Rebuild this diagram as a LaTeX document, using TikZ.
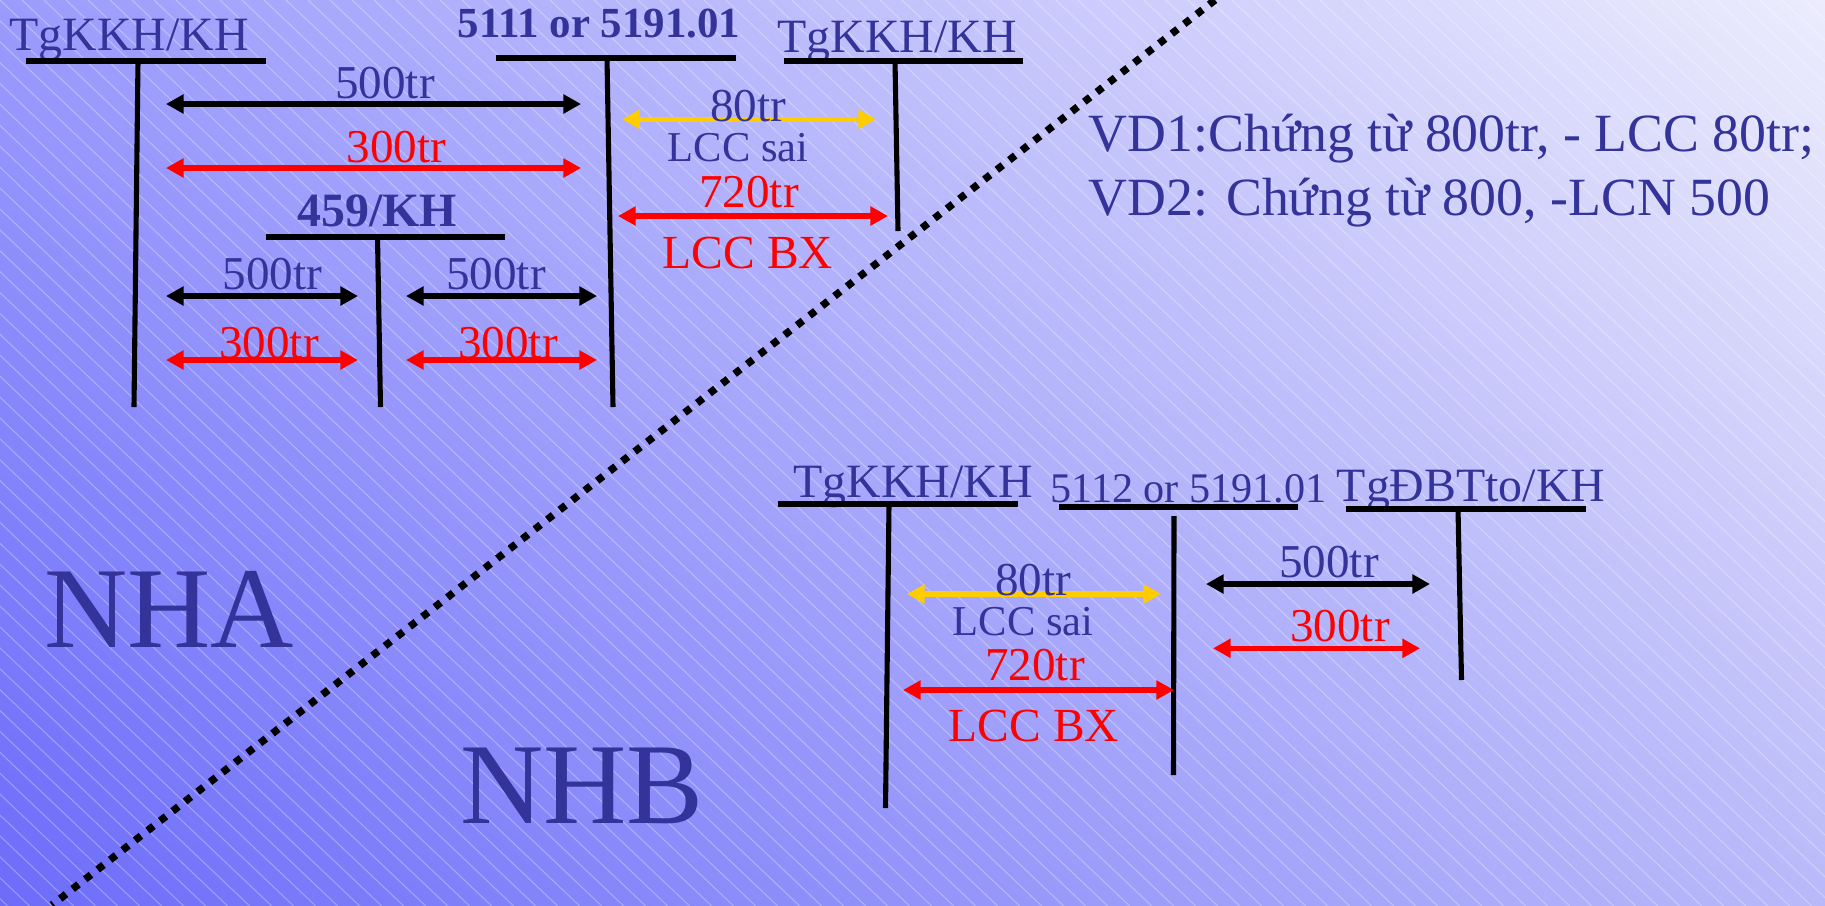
\documentclass[tikz,border=0pt]{standalone}
\usepackage{fontspec}
\setmainfont{Liberation Serif}
\usetikzlibrary{arrows.meta, shadings}

\definecolor{txtblue}{HTML}{333399}
\definecolor{lccyellow}{HTML}{FFCC00}
\definecolor{bgLL}{RGB}{108,108,250}
\definecolor{bgUL}{RGB}{155,155,252}
\definecolor{bgLR}{RGB}{185,185,250}
\definecolor{bgUR}{RGB}{236,236,253}

\tikzset{
  lbl/.style={anchor=base, inner sep=0pt, text=txtblue, font=\fontsize{13.6pt}{16pt}\selectfont},
  amt/.style={anchor=base, inner sep=0pt, font=\fontsize{13.4pt}{16pt}\selectfont},
  tline/.style={line width=1.45pt},
  darr/.style={<->, >={Triangle[length=5pt,width=5.2pt]}, line width=1.45pt},
  hatch/.style={white, opacity=0.3, line width=0.3pt}
}

\begin{document}
\begin{tikzpicture}[x=0.01cm, y=-0.01cm]
  % Background
  \useasboundingbox (0,0) rectangle (1825,905);
  \shade[lower left=bgLL, upper left=bgUL, lower right=bgLR, upper right=bgUR] (0,0) rectangle (1825,905);
  \begin{scope}
    \clip (0,0) rectangle (1825,905);
    \foreach \i in {-45,...,84}
      \draw[hatch] (\i*22,0) -- ++(1000,950);
  \end{scope}

  % Divider
  \coordinate (divtop) at (1215,0);
  \coordinate (divbot) at (52,905);
  \draw[line width=2.1pt, dash pattern=on 2.1pt off 2.4pt] (divtop) -- (divbot);

  % NHA side: T-accounts
  \node[lbl] (tkA) at (129,50) {TgKKH/KH};
  \draw[tline] (26,61) -- (266,61);
  \draw[tline] (138,61) -- (134,407);

  \node[lbl, font=\fontsize{12.2pt}{15pt}\selectfont\bfseries] (dtA) at (599,37.5) {5111 or 5191.01};
  \draw[tline] (496,58) -- (736,58);
  \draw[tline] (607,58) -- (613,407);

  \node[lbl] (tkA2) at (897,52.7) {TgKKH/KH};
  \draw[tline] (784,61) -- (1023,61);
  \draw[tline] (895,61) -- (898,231);

  \node[lbl, font=\fontsize{13.6pt}{16pt}\selectfont\bfseries] (ckA) at (377,226) {459/KH};
  \draw[tline] (266,237) -- (505,237);
  \draw[tline] (377.5,237) -- (380.5,407);

  % NHA side: amounts
  \coordinate (a1l) at (166,104);  \coordinate (a1r) at (581,104);
  \draw[darr] (a1l) -- (a1r);
  \node[amt, text=txtblue] (a1t) at (385,98.3) {500tr};
  \coordinate (a2l) at (166,168);  \coordinate (a2r) at (581,168);
  \draw[darr, red] (a2l) -- (a2r);
  \node[amt, text=red] (a2t) at (396.5,162.3) {300tr};

  \coordinate (a3l) at (166,296);  \coordinate (a3r) at (358,296);
  \draw[darr] (a3l) -- (a3r);
  \node[amt, text=txtblue] (a3t) at (272.5,289.3) {500tr};
  \coordinate (a4l) at (406,296);  \coordinate (a4r) at (597,296);
  \draw[darr] (a4l) -- (a4r);
  \node[amt, text=txtblue] (a4t) at (496,289.3) {500tr};

  \coordinate (a5l) at (166,360);  \coordinate (a5r) at (358,360);
  \draw[darr, red] (a5l) -- (a5r);
  \node[amt, text=red] (a5t) at (269,358) {300tr};
  \coordinate (a6l) at (406,360);  \coordinate (a6r) at (597,360);
  \draw[darr, red] (a6l) -- (a6r);
  \node[amt, text=red] (a6t) at (508,358) {300tr};

  \coordinate (a7l) at (622,119.3);  \coordinate (a7r) at (876,119.3);
  \draw[darr, lccyellow] (a7l) -- (a7r);
  \node[amt, text=txtblue] (a7t) at (748,121.7) {80tr};
  \node[amt, text=txtblue, font=\fontsize{12.1pt}{15pt}\selectfont] (a7s) at (738,161.7) {LCC sai};
  \coordinate (a8l) at (618,216);  \coordinate (a8r) at (888,216);
  \draw[darr, red] (a8l) -- (a8r);
  \node[amt, text=red] (a8t) at (749,207.3) {720tr};
  \node[amt, text=red, font=\fontsize{13.5pt}{16pt}\selectfont] (a8s) at (748,268.3) {LCC BX};

  % Examples
  \node[lbl, anchor=base west, font=\fontsize{15.3pt}{18pt}\selectfont] (vd1) at (1088,151.7) {VD1:Chứng từ 800tr, - LCC 80tr;};
  \node[lbl, anchor=base west, font=\fontsize{15.3pt}{18pt}\selectfont] (vd2) at (1088,215) {VD2: Chứng từ 800, -LCN 500};

  % Bank names
  \node[lbl, font=\fontsize{32.8pt}{38pt}\selectfont] (nha) at (169,647) {NHA};
  \node[lbl, font=\fontsize{32.8pt}{38pt}\selectfont] (nhb) at (582,823) {NHB};

  % NHB side: T-accounts
  \node[lbl] (tkB) at (913,497.3) {TgKKH/KH};
  \draw[tline] (778,504) -- (1018,504);
  \draw[tline] (889,504) -- (885.5,808);

  \node[lbl, font=\fontsize{12pt}{15pt}\selectfont] (dtB) at (1188.5,502.7) {5112 or 5191.01};
  \draw[tline] (1059,507) -- (1298,507);
  \draw[tline] (1174,516) -- (1173.5,775);

  \node[lbl] (dbB) at (1471,501) {TgĐBTto/KH};
  \draw[tline] (1346,509) -- (1586,509);
  \draw[tline] (1458,509) -- (1461.5,680);

  % NHB side: amounts
  \coordinate (b1l) at (907,594);  \coordinate (b1r) at (1161,594);
  \draw[darr, lccyellow] (b1l) -- (b1r);
  \node[amt, text=txtblue] (b1t) at (1033,595) {80tr};
  \node[amt, text=txtblue, font=\fontsize{12.1pt}{15pt}\selectfont] (b1s) at (1023,635) {LCC sai};
  \coordinate (b2l) at (903,690);  \coordinate (b2r) at (1174,690);
  \draw[darr, red] (b2l) -- (b2r);
  \node[amt, text=red] (b2t) at (1035,680.7) {720tr};
  \node[amt, text=red, font=\fontsize{13.5pt}{16pt}\selectfont] (b2s) at (1034,741.7) {LCC BX};

  \coordinate (b3l) at (1206,584);  \coordinate (b3r) at (1430,584);
  \draw[darr] (b3l) -- (b3r);
  \node[amt, text=txtblue] (b3t) at (1329,577.3) {500tr};
  \coordinate (b4l) at (1213,648.3);  \coordinate (b4r) at (1420,648.3);
  \draw[darr, red] (b4l) -- (b4r);
  \node[amt, text=red] (b4t) at (1340,641.7) {300tr};
\end{tikzpicture}
\end{document}
